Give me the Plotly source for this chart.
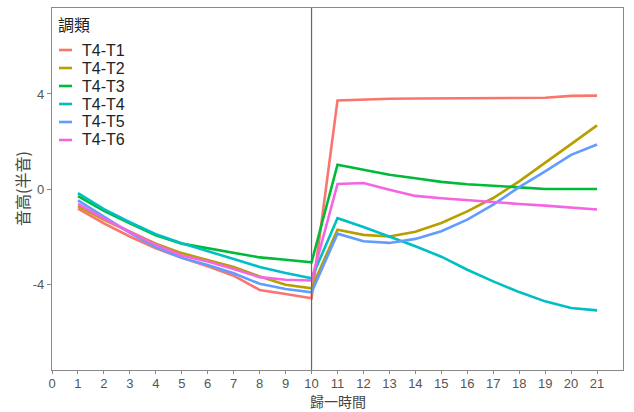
import plotly.graph_objects as go

# ---- data ----
time_points = list(range(1, 22))
series_names = ["T4-T1", "T4-T2", "T4-T3", "T4-T4", "T4-T5", "T4-T6"]
t4_t1 = [-0.83, -1.45, -2.0, -2.5, -2.9, -3.25, -3.65, -4.25, -4.42, -4.6,
         3.73, 3.77, 3.8, 3.81, 3.82, 3.83, 3.83, 3.83, 3.84, 3.92, 3.93]
t4_t2 = [-0.72, -1.3, -1.8, -2.3, -2.7, -3.0, -3.28, -3.68, -4.03, -4.18,
         -1.71, -1.93, -2.0, -1.8, -1.43, -0.94, -0.38, 0.32, 1.09, 1.89, 2.68]
t4_t3 = [-0.3, -0.92, -1.45, -1.95, -2.3, -2.5, -2.7, -2.88, -2.98, -3.09,
         1.02, 0.8, 0.6, 0.45, 0.3, 0.2, 0.12, 0.07, 0.0, 0.0, 0.0]
t4_t4 = [-0.17, -0.85, -1.4, -1.9, -2.28, -2.6, -2.95, -3.28, -3.54, -3.76,
         -1.23, -1.6, -2.0, -2.41, -2.85, -3.4, -3.89, -4.34, -4.73, -5.01, -5.11]
t4_t5 = [-0.48, -1.15, -1.85, -2.45, -2.9, -3.2, -3.55, -3.99, -4.21, -4.35,
         -1.88, -2.2, -2.27, -2.1, -1.78, -1.29, -0.66, 0.08, 0.74, 1.44, 1.87]
t4_t6 = [-0.63, -1.25, -1.8, -2.35, -2.8, -3.05, -3.37, -3.71, -3.82, -3.85,
         0.21, 0.25, -0.03, -0.29, -0.39, -0.48, -0.56, -0.63, -0.70, -0.77, -0.86]
series_values = [t4_t1, t4_t2, t4_t3, t4_t4, t4_t5, t4_t6]
colors = ["#F8766D", "#B79F00", "#00BA38", "#00BFC4", "#619CFF", "#F564E3"]
x_ticks = list(range(0, 22))
y_ticks = [-4, 0, 4]
break_x = 10
legend_title = "調類"
x_title = "歸一時間"
y_title = "音高(半音)"

fig = go.Figure()
for name, vals, col in zip(series_names, series_values, colors):
    fig.add_trace(go.Scatter(x=time_points, y=vals, mode="lines", name=name,
                             line=dict(color=col, width=2.6), showlegend=False))

# vertical reference line
fig.add_shape(type="line", xref="x", yref="paper", x0=break_x, x1=break_x,
              y0=0, y1=1, line=dict(color="#666666", width=1.2))

# manual legend (ggplot style, inside top-left)
W, H = 634, 412
ml, mr, mt, mb = 52, 11, 8, 42
pw, ph = W - ml - mr, H - mt - mb
def px(xpix):
    return (xpix - ml) / pw
def py(ypix):
    return 1 - (ypix - mt) / ph

fig.add_annotation(text=legend_title, xref="paper", yref="paper",
                   x=px(57), y=py(24), xanchor="left", yanchor="middle",
                   showarrow=False, borderpad=0,
                   font=dict(size=16, color="#222222", family="Noto Sans CJK TC"))
for i, (name, col) in enumerate(zip(series_names, colors)):
    yc = 50 + i * 18.0
    fig.add_shape(type="line", xref="paper", yref="paper",
                  x0=px(59), x1=px(72), y0=py(yc), y1=py(yc),
                  line=dict(color=col, width=2.6))
    fig.add_annotation(text=name, xref="paper", yref="paper",
                       x=px(81), y=py(yc), xanchor="left", yanchor="middle",
                       showarrow=False, borderpad=0,
                       font=dict(size=16, color="#222222", family="Arial, Liberation Sans"))

# axis titles as annotations for exact placement
fig.add_annotation(text=x_title, xref="paper", yref="paper",
                   x=0.5, y=py(401.5), xanchor="center", yanchor="middle",
                   showarrow=False, borderpad=0,
                   font=dict(size=14, color="#444444", family="Noto Sans CJK TC"))
fig.add_annotation(text=y_title, xref="paper", yref="paper",
                   x=px(22), y=py(189), xanchor="center", yanchor="middle",
                   textangle=-90, showarrow=False, borderpad=0,
                   font=dict(size=16, color="#444444", family="Noto Sans CJK TC"))

fig.update_layout(
    width=W, height=H,
    margin=dict(l=ml, r=mr, t=mt, b=mb),
    plot_bgcolor="white", paper_bgcolor="white",
    font=dict(family="Arial, Liberation Sans", color="#555555"),
)
fig.update_xaxes(range=[0, 22], tickvals=x_ticks, ticktext=[str(v) for v in x_ticks],
                 showgrid=False, zeroline=False, showline=True, mirror=True,
                 linecolor="#888888", linewidth=1.2,
                 ticks="outside", ticklen=3, tickcolor="#888888", automargin=False,
                 ticklabelstandoff=-2,
                 tickfont=dict(size=13, color="#555555"))
fig.update_yaxes(range=[-7.62, 7.62], tickvals=y_ticks, ticktext=[str(v) for v in y_ticks],
                 showgrid=False, zeroline=False, showline=True, mirror=True,
                 linecolor="#888888", linewidth=1.2,
                 ticks="outside", ticklen=4, tickcolor="#888888", automargin=False,
                 tickfont=dict(size=13, color="#555555"))

fig.write_html("out.html")
